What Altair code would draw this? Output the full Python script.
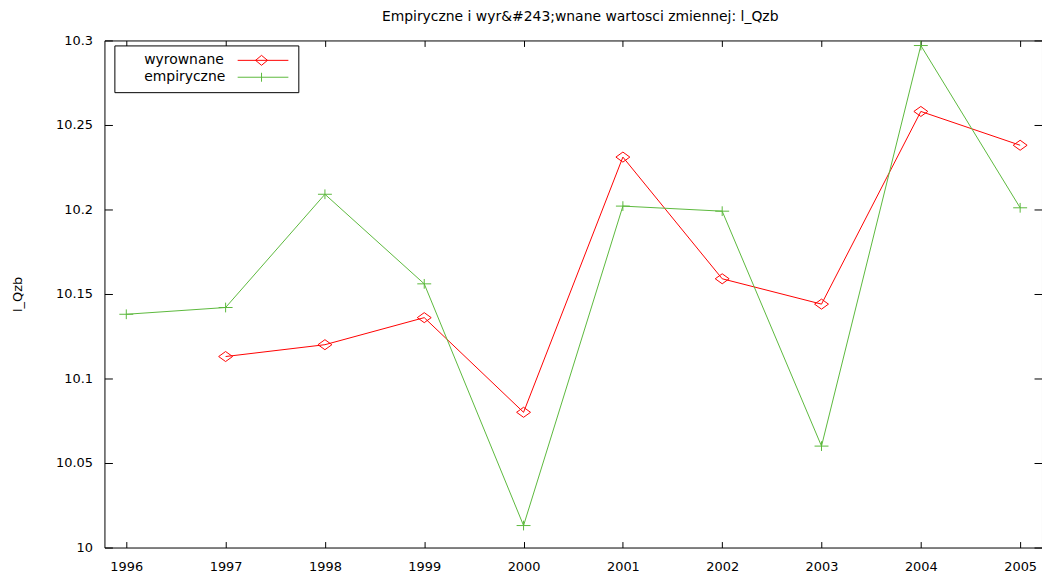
import altair as alt
import pandas as pd

# ---- data ----
years = [1996, 1997, 1998, 1999, 2000, 2001, 2002, 2003, 2004, 2005]
wyrownane = [None, 10.113, 10.120, 10.136, 10.080, 10.231, 10.159, 10.144, 10.258, 10.238]
empiryczne = [10.138, 10.142, 10.209, 10.156, 10.013, 10.202, 10.199, 10.060, 10.297, 10.201]
series_names = ["wyrownane", "empiryczne"]
series_colors = ["#ff0000", "#5cb83c"]
x_ticks = years
y_ticks = [10.0, 10.05, 10.1, 10.15, 10.2, 10.25, 10.3]
title_text = "Empiryczne i wyr&#243;wnane wartosci zmiennej: l_Qzb"
y_title = "l_Qzb"

rows = []
for name, vals in zip(series_names, [wyrownane, empiryczne]):
    for yr, v in zip(years, vals):
        if v is not None:
            rows.append({"year": yr, "series": name, "value": v})
df = pd.DataFrame(rows)

FONT = "DejaVu Sans"
W, H = 943, 510

xscale = alt.Scale(domain=[1995.78, 2005.22], nice=False, zero=False)
yscale = alt.Scale(domain=[10.0, 10.3], nice=False, zero=False)

marker_paths = ["M-1,0L0,-0.72L1,0L0,0.72Z", "M-1,0H1M0,-0.7V0.7"]
legend_paths = [
    "M21.8,0H32M25.4,0L26.6,-1L27.8,0L26.6,1Z",
    "M21.8,0H32M26.6,-0.9V0.9",
]

axis_common = dict(domain=False, grid=False, tickColor="black", tickWidth=1,
                   labelFont=FONT, labelFontSize=13, labelColor="black",
                   labelFlush=False, labelOverlap=False)

base = alt.Chart(df)

lines = base.mark_line(strokeWidth=1).encode(
    x=alt.X("year:Q", scale=xscale,
            axis=alt.Axis(orient="bottom", values=x_ticks, format="d", offset=-6,
                          tickSize=6, labelPadding=13, title=None, **axis_common)),
    y=alt.Y("value:Q", scale=yscale,
            axis=alt.Axis(orient="left", values=y_ticks, format="~g", offset=-8,
                          tickSize=8, labelPadding=12, title=y_title,
                          titleFont=FONT, titleFontSize=13, titleFontWeight="normal",
                          titleColor="black", titleX=-95, titleY=H / 2,
                          titleAngle=270, titleAlign="center", titleBaseline="middle",
                          **axis_common)),
    color=alt.Color("series:N", scale=alt.Scale(domain=series_names, range=series_colors),
                    legend=None),
    detail="series:N",
)

points = base.mark_point(filled=False, opacity=1, size=196, strokeWidth=1).encode(
    x=alt.X("year:Q", scale=xscale,
            axis=alt.Axis(orient="top", values=x_ticks, offset=-6, tickSize=6,
                          labels=False, title=None, **axis_common)),
    y=alt.Y("value:Q", scale=yscale,
            axis=alt.Axis(orient="right", values=y_ticks, offset=-8, tickSize=8,
                          labels=False, title=None, **axis_common)),
    color=alt.Color("series:N", scale=alt.Scale(domain=series_names, range=series_colors),
                    legend=None),
    shape=alt.Shape("series:N", scale=alt.Scale(domain=series_names, range=marker_paths),
                    legend=None),
)

legend_props = dict(title=None, orient="none", legendX=10, legendY=5, padding=8,
                    strokeColor="black", fillColor="white", cornerRadius=0,
                    labelFont=FONT, labelFontSize=14, labelColor="black",
                    labelOffset=8, rowPadding=3, symbolStrokeWidth=1,
                    symbolSize=100, symbolOpacity=1, labelLimit=0)

legend_layer = base.transform_filter("false").mark_point(
    filled=False, opacity=1, size=100, strokeWidth=1
).encode(
    x=alt.X("year:Q", scale=xscale, axis=None),
    y=alt.Y("value:Q", scale=yscale, axis=None),
    color=alt.Color("series:N", scale=alt.Scale(domain=series_names, range=series_colors),
                    legend=alt.Legend(**legend_props)),
    shape=alt.Shape("series:N", scale=alt.Scale(domain=series_names, range=legend_paths),
                    legend=alt.Legend(**legend_props)),
)

chart = alt.layer(lines, points, legend_layer).resolve_scale(
    color="independent", shape="independent"
).resolve_axis(
    x="independent", y="independent"
).properties(
    width=W, height=H,
    title=alt.TitleParams(text=title_text, font=FONT, fontSize=14, fontWeight="normal",
                          color="black", anchor="middle", frame="group",
                          baseline="alphabetic", offset=19, dx=7, dy=19),
    autosize=alt.AutoSizeParams(type="none"),
    padding={"left": 97, "top": 31, "right": 0, "bottom": 28},
    background="white",
).configure_view(stroke="black", strokeWidth=1)

chart.save("out.html", embed_options={"renderer": "svg", "actions": False})
